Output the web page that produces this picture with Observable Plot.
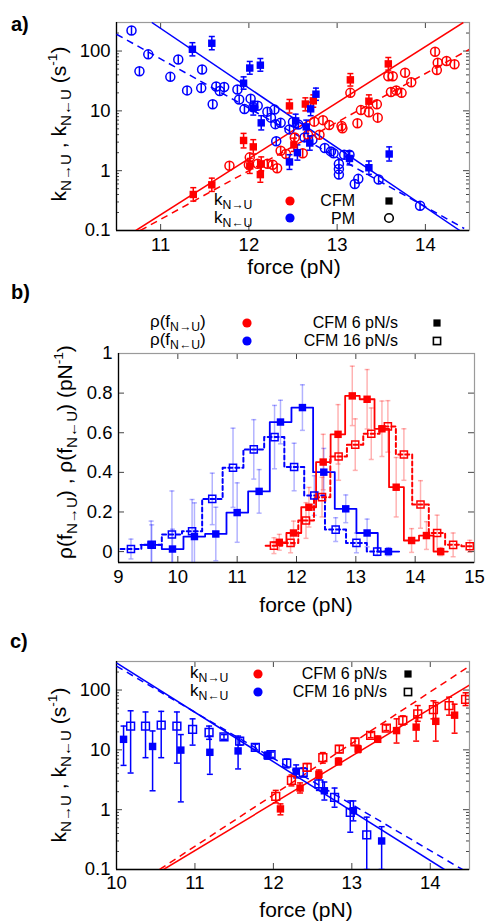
<!DOCTYPE html>
<html><head><meta charset="utf-8">
<script src="https://cdn.jsdelivr.net/npm/d3@7"></script>
<script src="https://cdn.jsdelivr.net/npm/@observablehq/plot@0.6"></script>
<style>
body{margin:0;background:#fff;font-family:"Liberation Sans",Arial,sans-serif;}
#fig{position:relative;width:487px;height:921px;overflow:hidden;background:#fff}
.abs{position:absolute;white-space:nowrap;line-height:1;color:#000}
.abs sub{font-size:0.72em;vertical-align:-0.35em;line-height:0}
.abs sup{font-size:0.65em;vertical-align:0.6em;line-height:0}
</style></head><body><div id="fig"></div>
<script>
// ================= DATA =================
const RED = "#ff0000", BLUE = "#0000ff";

// ---- panel a ----
const aXTicks = [11, 12, 13, 14];
const aYTicks = [0.1, 1, 10, 100];
const aYTickLabels = ["0.1", "1", "10", "100"];
// PM, k N->U (red open circles)
const aPMfwdF = [11.78,12.01,12.00,12.10,12.21,12.27,12.32,12.36,12.42,12.52,12.61,12.67,12.74,12.80,12.84,12.91,13.05,13.06,13.15,13.23,13.27,13.36,13.45,13.46,13.58,13.63,13.77,13.61,13.67,13.73,13.84,14.11,14.14,14.13,14.24,14.33];
const aPMfwdK = [1.21,1.67,1.26,1.3,1.3,1.26,1.1,2.15,1.9,3.6,1.95,4.0,6.6,4.0,7.0,5.8,5.6,5.1,20,6.2,10.3,9.5,12.9,7.7,38,38,43.5,20.7,22,20,30,97,64,48,68,60];
// PM, k N<-U (blue open circles)
const aPMbwdF = [10.67,10.76,10.86,11.11,11.20,11.30,11.46,11.47,11.59,11.63,11.67,11.72,11.87,11.89,11.95,12.02,12.05,12.10,12.21,12.25,12.29,12.30,12.36,12.31,12.46,12.50,12.56,12.63,12.72,12.86,12.93,12.96,13.02,13.02,13.02,13.08,13.14,13.20,13.24,13.47,13.94];
const aPMbwdK = [221,46,88,37,72,22,24,49,12.9,25.5,21.5,25,22.7,15.5,10.7,16,11.5,12.2,9.7,7.7,10.5,6,6.3,3.1,4.9,6.5,5.9,3.6,3.3,2.4,2.1,1.95,1.29,1.07,0.86,1.85,1.85,0.6,0.73,0.71,0.26];
// CFM, k N->U (red filled squares)
const aCFMfwdF  = [11.37,11.58,11.94,12.05,12.01,12.14,12.13,12.46,12.51,12.64,12.73,13.15,13.36,13.58];
const aCFMfwdK  = [0.4,0.58,3.2,2.5,1.2,1.3,0.86,12.1,2.7,13,14.7,33,14.5,61];
const aCFMfwdLo = [0.31,0.45,2.4,1.9,0.9,1.0,0.64,9.2,2.1,10,11.5,26,11.5,48];
const aCFMfwdHi = [0.52,0.75,4.2,3.3,1.6,1.7,1.15,15.5,3.5,16.5,18.5,42,18.5,78];
// CFM, k N<-U (blue filled squares)
const aCFMbwdF  = [11.36,11.58,11.94,12.01,12.13,12.05,12.14,12.46,12.53,12.55,12.65,12.69,12.70,12.76,13.14,13.36,13.59];
const aCFMbwdK  = [107,135,29,52,58,11.2,6.3,1.4,6.8,2.0,5.4,2.9,10.8,19,1.6,1.12,1.9];
const aCFMbwdLo = [83,105,23,41,46,8.5,4.8,1.05,5.3,1.5,4.2,2.2,8.3,15,1.25,0.87,1.45];
const aCFMbwdHi = [138,175,37,67,75,14.5,8.3,1.85,8.8,2.7,7,3.8,14,24,2.1,1.45,2.5];
// fit lines (end points)
const aFitRate   = ["fwd","fwd","bwd","bwd"];
const aFitMethod = ["CFM","PM","CFM","PM"];
const aFitF0 = [10.72,10.77,10.90,10.50];
const aFitK0 = [0.1,0.1,300,191];
const aFitF1 = [14.43,14.50,14.39,14.44];
const aFitK1 = [300,107,0.1,0.108];

// ---- panel b ----
const bXTicks = [9,10,11,12,13,14,15];
const bYTicks = [0,0.2,0.4,0.6,0.8,1];
const bYTickLabels = ["0","0.2","0.4","0.6","0.8","1"];
// CFM 6 pN/s, rho(f N->U) red solid
const b6fwdF = [11.71,11.95,12.21,12.45,12.70,12.94,13.19,13.44,13.68,13.94,14.19,14.43];
const b6fwdR = [0.047,0.094,0.224,0.452,0.592,0.786,0.769,0.62,0.325,0.056,0.081,0.0];
const b6fwdE = [0.04,0.06,0.10,0.14,0.15,0.15,0.15,0.14,0.15,0.06,0.07,0.02];
// CFM 16 pN/s, rho(f N->U) red dashed
const b16fwdF = [11.62,11.90,12.16,12.43,12.71,12.99,13.26,13.54,13.81,14.09,14.37,14.64,14.92];
const b16fwdR = [0.03,0.044,0.157,0.275,0.48,0.54,0.595,0.632,0.49,0.238,0.094,0.034,0.027];
const b16fwdE = [0.04,0.05,0.09,0.10,0.12,0.13,0.13,0.13,0.13,0.12,0.09,0.06,0.03];
// CFM 6 pN/s, rho(f N<-U) blue solid
const b6bwdF = [9.55,9.91,10.28,10.64,11.00,11.37,11.73,12.10,12.46,12.83,13.19,13.55];
const b6bwdR = [0.034,0.013,0.076,0.089,0.197,0.304,0.654,0.727,0.401,0.216,0.094,0.0];
const b6bwdE = [0.12,0.10,0.17,0.135,0.15,0.11,0.11,0.115,0.12,0.07,0.07,0.02];
// CFM 16 pN/s, rho(f N<-U) blue dashed
const b16bwdF = [9.21,9.56,9.90,10.24,10.58,10.93,11.28,11.63,11.96,12.30,12.66,13.01,13.36];
const b16bwdR = [0.013,0.035,0.086,0.103,0.266,0.423,0.516,0.578,0.427,0.283,0.111,0.044,0.0];
const b16bwdE = [0.05,0.10,0.22,0.16,0.13,0.20,0.15,0.16,0.12,0.10,0.06,0.05,0.02];

// ---- panel c ----
const cXTicks = [10,11,12,13,14];
const cYTicks = [0.1,1,10,100];
const cYTickLabels = ["0.1","1","10","100"];
const c6bwdF  = [10.09,10.46,10.82,11.19,11.55,11.92,12.29,12.65,13.02,13.38];
const c6bwdK  = [15,11.4,9.9,9.1,9.6,8.0,4.4,2.07,0.96,0.3];
const c6bwdLo = [5.5,2.07,1.35,3.9,4.8,7.0,3.4,1.45,0.65,0.1];
const c6bwdHi = [25,20.7,18,17,17,9.2,5.6,2.9,1.4,0.52];
const c6fwdF  = [12.09,12.34,12.58,12.83,13.08,13.33,13.57,13.82,14.07,14.31];
const c6fwdK  = [1.03,2.3,3.9,6.4,10.3,15,21,24,30,38];
const c6fwdLo = [0.82,1.9,3.3,5.6,9.0,13.5,13,14,14,19];
const c6fwdHi = [1.25,2.8,4.6,7.3,11.8,17,33,37,62,58];
const c16bwdF  = [10.18,10.37,10.57,10.77,10.97,11.18,11.37,11.57,11.77,11.97,12.17,12.38,12.58,12.78,12.98,13.19];
const c16bwdK  = [25,25,26,25,22,19.5,16.5,14,11,8.3,6,4.2,2.7,1.6,0.9,0.38];
const c16bwdLo = [4.1,7.4,7.4,6,12,15,15,12,10,7.5,5,3.5,2.1,1.1,0.42,0.1];
const c16bwdHi = [45,43,44,43,33,25,18,16,12.5,9.2,7,5,3.4,2.3,1.4,0.75];
const c16fwdF  = [12.03,12.23,12.43,12.63,12.84,13.04,13.24,13.44,13.65,13.84,14.04,14.24,14.45];
const c16fwdK  = [1.67,3.1,5.1,7.4,10.3,13.6,17.5,23,31,40,47,55,70];
const c16fwdLo = [1.3,2.5,4.4,6,9,12,16,21,26,30,33,38,55];
const c16fwdHi = [2.1,3.8,5.9,9,11.8,15.5,19.5,26,37,55,66,76,90];
const cFitRate   = ["fwd","fwd","bwd","bwd"];
const cFitMethod = ["6","16","6","16"];
const cFitF0 = [10.60,10.55,10.00,10.00];
const cFitK0 = [0.1,0.1,285,251];
const cFitF1 = [14.50,14.50,14.18,14.41];
const cFitK1 = [121,251,0.1,0.1];

// ================= HELPERS =================
const FONT = "Liberation Sans, Arial, sans-serif";
const fig = document.getElementById("fig");
const pts = (F, K, Lo, Hi) => F.map((f, i) => ({f, k: K[i], lo: Lo ? Lo[i] : null, hi: Hi ? Hi[i] : null}));
const fits = (R, M, F0, K0, F1, K1) => R.map((r, i) => ({rate: r, method: M[i], f0: F0[i], k0: K0[i], f1: F1[i], k1: K1[i]}));
const capSym = {draw(ctx, size) { const w = Math.sqrt(size / Math.PI); ctx.moveTo(-w, 0); ctx.lineTo(w, 0); }};
const pmSym = {draw(ctx, size) { const r = Math.sqrt(size / Math.PI); ctx.moveTo(r, 0); ctx.arc(0, 0, r, 0, 2 * Math.PI); ctx.moveTo(0, -r); ctx.lineTo(0, r); }};

function frameTicks(xTicks, yMajor, yMinor, fw, fh, xDom, yDom) {
  const tc = "#444";
  const m = [
    Plot.tickX(xTicks, {x: d => d, insetBottom: fh - 6, stroke: tc}),
    Plot.tickX(xTicks, {x: d => d, insetTop: fh - 6, stroke: tc}),
    Plot.tickY(yMajor, {y: d => d, insetRight: fw - 6, stroke: tc}),
    Plot.tickY(yMajor, {y: d => d, insetLeft: fw - 6, stroke: tc}),
  ];
  if (yMinor) {
    m.push(Plot.tickY(yMinor, {y: d => d, insetRight: fw - 3, stroke: tc}));
    m.push(Plot.tickY(yMinor, {y: d => d, insetLeft: fw - 3, stroke: tc}));
  }
  m.push(Plot.frame({stroke: "#9a9a9a", strokeWidth: 1.2}));
  m.push(Plot.ruleX([xDom[0]], {stroke: "#000", strokeWidth: 1.3}));
  m.push(Plot.ruleY([yDom[0]], {stroke: "#000", strokeWidth: 1.3}));
  return m;
}
function errMarks(data, color, opacity = 1, capR = 3) {
  return [
    Plot.ruleX(data, {x: "f", y1: "lo", y2: "hi", stroke: color, strokeOpacity: opacity, strokeWidth: 1.5, clip: true}),
    Plot.dot(data.filter(d => d.lo != null), {x: "f", y: "lo", symbol: capSym, r: capR, stroke: color, strokeOpacity: opacity, strokeWidth: 1.5, fill: "none", clip: true}),
    Plot.dot(data, {x: "f", y: "hi", symbol: capSym, r: capR, stroke: color, strokeOpacity: opacity, strokeWidth: 1.5, fill: "none", clip: true}),
  ];
}
function placePlot(svg, top) { svg.style.position = "absolute"; svg.style.left = "0px"; svg.style.top = top + "px"; fig.append(svg); }
function addText(html, x, y, {size = 16, anchor = "start", weight = "normal", rotate = false} = {}) {
  const d = document.createElement("div");
  d.className = "abs"; d.innerHTML = html;
  d.style.fontSize = size + "px"; d.style.fontWeight = weight;
  d.style.left = x + "px"; d.style.top = y + "px";
  const tx = anchor === "start" ? "0%" : anchor === "middle" ? "-50%" : "-100%";
  d.style.transform = `translate(${tx},-50%)` + (rotate ? " rotate(-90deg)" : "");
  fig.append(d);
}
function addMarker(type, color, x, y) {
  const ns = "http://www.w3.org/2000/svg";
  const s = document.createElementNS(ns, "svg");
  s.setAttribute("width", 14); s.setAttribute("height", 14);
  s.style.position = "absolute"; s.style.left = (x - 7) + "px"; s.style.top = (y - 7) + "px";
  let e;
  if (type === "dot" || type === "ocirc") { e = document.createElementNS(ns, "circle"); e.setAttribute("cx", 7); e.setAttribute("cy", 7); e.setAttribute("r", type === "dot" ? 4.6 : 4.3); }
  else { e = document.createElementNS(ns, "rect"); e.setAttribute("x", 3.4); e.setAttribute("y", 3.4); e.setAttribute("width", 7.2); e.setAttribute("height", 7.2); }
  if (type === "dot" || type === "sq") { e.setAttribute("fill", color); }
  else { e.setAttribute("fill", "none"); e.setAttribute("stroke", color); e.setAttribute("stroke-width", 1.6); }
  s.append(e); fig.append(s);
}
const styleObj = {fontFamily: FONT, fontSize: "18.5px", background: "none", color: "#000", overflow: "visible"};

// ================= PANEL A =================
{
  const W = 487, H = 290, mt = 22, mb = 60, ml = 116, mr = 18;
  const xDom = [10.5, 14.5], yDom = [0.1, 300];
  const minor = d3.scaleLog().domain(yDom).ticks().filter(v => !aYTicks.includes(v));
  const fitData = fits(aFitRate, aFitMethod, aFitF0, aFitK0, aFitF1, aFitK1);
  const cfmF = pts(aCFMfwdF, aCFMfwdK, aCFMfwdLo, aCFMfwdHi);
  const cfmB = pts(aCFMbwdF, aCFMbwdK, aCFMbwdLo, aCFMbwdHi);
  const pmF = pts(aPMfwdF, aPMfwdK), pmB = pts(aPMbwdF, aPMbwdK);
  const col = r => r === "fwd" ? RED : BLUE;
  const svg = Plot.plot({
    width: W, height: H, marginTop: mt, marginBottom: mb, marginLeft: ml, marginRight: mr,
    style: styleObj,
    x: {domain: xDom, ticks: aXTicks, tickFormat: d => String(d), tickSize: 0, tickPadding: 7, label: null},
    y: {type: "log", domain: yDom, ticks: aYTicks, tickFormat: d => aYTickLabels[aYTicks.indexOf(d)], tickSize: 0, tickPadding: 6, label: null},
    marks: [
      ...frameTicks(aXTicks, aYTicks, minor, W - ml - mr, H - mt - mb, xDom, yDom),
      Plot.link(fitData.filter(d => d.method === "CFM"), {x1: "f0", y1: "k0", x2: "f1", y2: "k1", stroke: d => col(d.rate), strokeWidth: 1.5, clip: true}),
      Plot.link(fitData.filter(d => d.method === "PM"), {x1: "f0", y1: "k0", x2: "f1", y2: "k1", stroke: d => col(d.rate), strokeWidth: 1.5, strokeDasharray: "7,5", clip: true}),
      Plot.dot(pmB, {x: "f", y: "k", symbol: pmSym, r: 4.5, stroke: BLUE, strokeWidth: 1.5, fill: "none", clip: true}),
      Plot.dot(pmF, {x: "f", y: "k", symbol: pmSym, r: 4.5, stroke: RED, strokeWidth: 1.5, fill: "none", clip: true}),
      ...errMarks(cfmF, RED), ...errMarks(cfmB, BLUE),
      Plot.dot(cfmF, {x: "f", y: "k", symbol: "square", r: 4.2, fill: RED, clip: true}),
      Plot.dot(cfmB, {x: "f", y: "k", symbol: "square", r: 4.2, fill: BLUE, clip: true}),
    ]
  });
  placePlot(svg, 0);
  addText("a)", 11, 24, {size: 20, weight: "bold"});
  addText("k<sub>N→U</sub> , k<sub>N←U</sub> (s<sup>-1</sup>)", 58, 124, {size: 21, anchor: "middle", rotate: true});
  addText("force (pN)", 294, 266, {size: 21, anchor: "middle"});
  addText("k<sub>N→U</sub>", 214, 199, {size: 17});
  addText("k<sub>N←U</sub>", 214, 217, {size: 17});
  addMarker("dot", RED, 290, 201); addMarker("dot", BLUE, 290, 218);
  addText("CFM", 355, 201, {size: 16, anchor: "end"});
  addText("PM", 355, 219, {size: 16, anchor: "end"});
  addMarker("sq", "#000", 389, 201); addMarker("ocirc", "#000", 389, 218);
}

// ================= PANEL B =================
{
  const W = 487, H = 310, mt = 53, mb = 48, ml = 118, mr = 13;
  const xDom = [9, 15], yDom = [-0.055, 1];
  const stepData = (c, r) => {
    const n = c.length, e = [c[0] - (c[1] - c[0]) / 2];
    for (let i = 1; i < n; i++) e.push((c[i - 1] + c[i]) / 2);
    e.push(c[n - 1] + (c[n - 1] - c[n - 2]) / 2);
    const p = r.map((v, i) => ({f: e[i], r: v}));
    p.push({f: e[n], r: r[n - 1]});
    return p;
  };
  const errD = (F, R, E) => F.map((f, i) => ({f, k: R[i], lo: R[i] - E[i], hi: R[i] + E[i]}));
  const s6f = errD(b6fwdF, b6fwdR, b6fwdE), s16f = errD(b16fwdF, b16fwdR, b16fwdE);
  const s6b = errD(b6bwdF, b6bwdR, b6bwdE), s16b = errD(b16bwdF, b16bwdR, b16bwdE);
  const svg = Plot.plot({
    width: W, height: H, marginTop: mt, marginBottom: mb, marginLeft: ml, marginRight: mr,
    style: styleObj,
    x: {domain: xDom, ticks: bXTicks, tickFormat: d => String(d), tickSize: 0, tickPadding: 7, label: null},
    y: {domain: yDom, ticks: bYTicks, tickFormat: d => bYTickLabels[bYTicks.indexOf(d)], tickSize: 0, tickPadding: 6, label: null},
    marks: [
      ...frameTicks(bXTicks, bYTicks, null, W - ml - mr, H - mt - mb, xDom, yDom),
      ...errMarks(s6b, BLUE, 0.3, 2.5), ...errMarks(s16b, BLUE, 0.3, 2.5),
      ...errMarks(s6f, RED, 0.3, 2.5), ...errMarks(s16f, RED, 0.3, 2.5),
      Plot.line(stepData(b16bwdF, b16bwdR), {x: "f", y: "r", curve: "step-after", stroke: BLUE, strokeWidth: 2, strokeDasharray: "4,3", clip: true}),
      Plot.line(stepData(b6bwdF, b6bwdR), {x: "f", y: "r", curve: "step-after", stroke: BLUE, strokeWidth: 1.8, clip: true}),
      Plot.line(stepData(b16fwdF, b16fwdR), {x: "f", y: "r", curve: "step-after", stroke: RED, strokeWidth: 2, strokeDasharray: "4,3", clip: true}),
      Plot.line(stepData(b6fwdF, b6fwdR), {x: "f", y: "r", curve: "step-after", stroke: RED, strokeWidth: 1.8, clip: true}),
      Plot.dot(s16b, {x: "f", y: "k", symbol: "square", r: 4, stroke: BLUE, strokeWidth: 1.5, fill: "none", clip: true}),
      Plot.dot(s6b, {x: "f", y: "k", symbol: "square", r: 4.2, fill: BLUE, clip: true}),
      Plot.dot(s16f, {x: "f", y: "k", symbol: "square", r: 4, stroke: RED, strokeWidth: 1.5, fill: "none", clip: true}),
      Plot.dot(s6f, {x: "f", y: "k", symbol: "square", r: 4.2, fill: RED, clip: true}),
    ]
  });
  placePlot(svg, 300);
  addText("b)", 11, 292, {size: 20, weight: "bold"});
  addText("ρ(f<sub>N→U</sub>) , ρ(f<sub>N←U</sub>) (pN<sup>-1</sup>)", 64, 452, {size: 21, anchor: "middle", rotate: true});
  addText("force (pN)", 306, 604, {size: 21, anchor: "middle"});
  addText("ρ(f<sub>N→U</sub>)", 150, 321, {size: 17});
  addText("ρ(f<sub>N←U</sub>)", 150, 339, {size: 17});
  addMarker("dot", RED, 247, 323); addMarker("dot", BLUE, 247, 341);
  addText("CFM 6 pN/s", 398, 323, {size: 16, anchor: "end"});
  addText("CFM 16 pN/s", 398, 341, {size: 16, anchor: "end"});
  addMarker("sq", "#000", 437, 323); addMarker("osq", "#000", 437, 341);
}

// ================= PANEL C =================
{
  const W = 487, H = 311, mt = 51, mb = 52, ml = 116, mr = 18;
  const xDom = [10, 14.5], yDom = [0.1, 300];
  const minor = d3.scaleLog().domain(yDom).ticks().filter(v => !cYTicks.includes(v));
  const fitData = fits(cFitRate, cFitMethod, cFitF0, cFitK0, cFitF1, cFitK1);
  const col = r => r === "fwd" ? RED : BLUE;
  const p6b = pts(c6bwdF, c6bwdK, c6bwdLo, c6bwdHi), p6f = pts(c6fwdF, c6fwdK, c6fwdLo, c6fwdHi);
  const p16b = pts(c16bwdF, c16bwdK, c16bwdLo, c16bwdHi), p16f = pts(c16fwdF, c16fwdK, c16fwdLo, c16fwdHi);
  const svg = Plot.plot({
    width: W, height: H, marginTop: mt, marginBottom: mb, marginLeft: ml, marginRight: mr,
    style: styleObj,
    x: {domain: xDom, ticks: cXTicks, tickFormat: d => String(d), tickSize: 0, tickPadding: 6, label: null},
    y: {type: "log", domain: yDom, ticks: cYTicks, tickFormat: d => cYTickLabels[cYTicks.indexOf(d)], tickSize: 0, tickPadding: 6, label: null},
    marks: [
      ...frameTicks(cXTicks, cYTicks, minor, W - ml - mr, H - mt - mb, xDom, yDom),
      Plot.link(fitData.filter(d => d.method === "6"), {x1: "f0", y1: "k0", x2: "f1", y2: "k1", stroke: d => col(d.rate), strokeWidth: 1.5, clip: true}),
      Plot.link(fitData.filter(d => d.method === "16"), {x1: "f0", y1: "k0", x2: "f1", y2: "k1", stroke: d => col(d.rate), strokeWidth: 1.5, strokeDasharray: "7,5", clip: true}),
      ...errMarks(p16b, BLUE), ...errMarks(p6b, BLUE), ...errMarks(p16f, RED), ...errMarks(p6f, RED),
      Plot.dot(p16b, {x: "f", y: "k", symbol: "square", r: 4.4, stroke: BLUE, strokeWidth: 1.5, fill: "none", clip: true}),
      Plot.dot(p16f, {x: "f", y: "k", symbol: "square", r: 4.4, stroke: RED, strokeWidth: 1.5, fill: "none", clip: true}),
      Plot.dot(p6b, {x: "f", y: "k", symbol: "square", r: 4.2, fill: BLUE, clip: true}),
      Plot.dot(p6f, {x: "f", y: "k", symbol: "square", r: 4.2, fill: RED, clip: true}),
    ]
  });
  placePlot(svg, 610);
  addText("c)", 10, 641, {size: 20, weight: "bold"});
  addText("k<sub>N→U</sub> , k<sub>N←U</sub> (s<sup>-1</sup>)", 58, 765, {size: 21, anchor: "middle", rotate: true});
  addText("force (pN)", 306, 909, {size: 21, anchor: "middle"});
  addText("k<sub>N→U</sub>", 190, 672, {size: 17});
  addText("k<sub>N←U</sub>", 190, 690, {size: 17});
  addMarker("dot", RED, 258, 674); addMarker("dot", BLUE, 258, 692);
  addText("CFM 6 pN/s", 387, 674, {size: 16, anchor: "end"});
  addText("CFM 16 pN/s", 387, 692, {size: 16, anchor: "end"});
  addMarker("sq", "#000", 408, 674); addMarker("osq", "#000", 408, 692);
}
</script></body></html>
